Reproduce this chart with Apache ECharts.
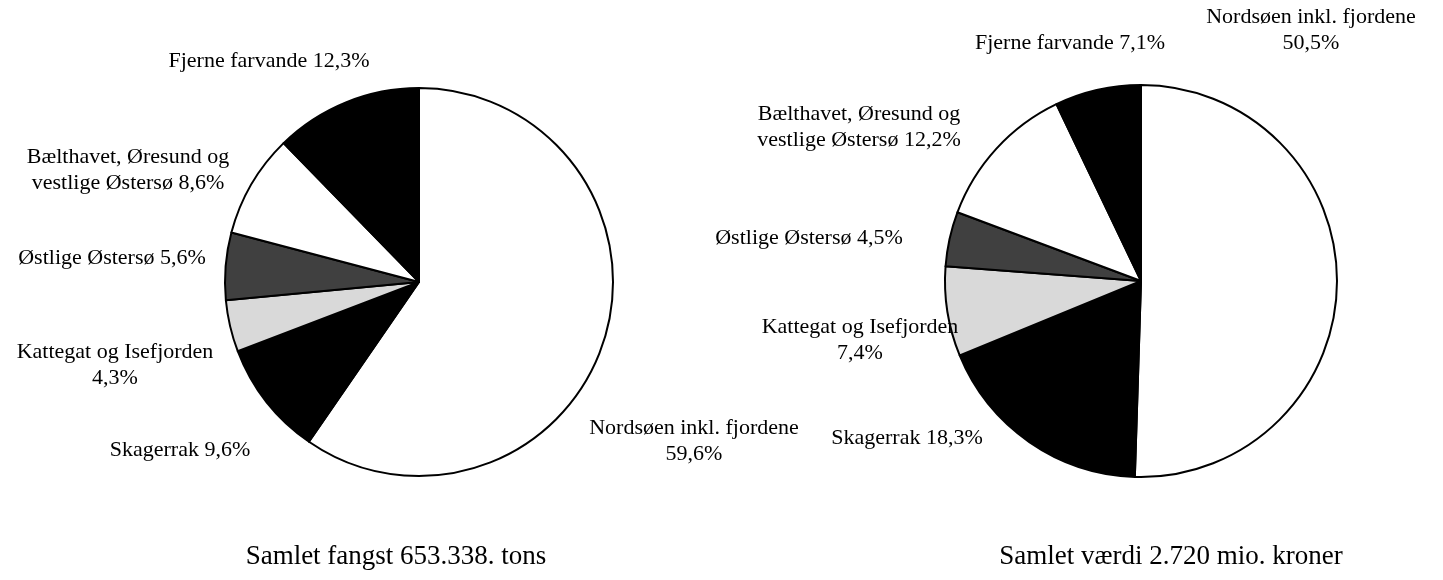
<!DOCTYPE html>
<html lang="da">
<head>
<meta charset="utf-8">
<title>Fangst og værdi</title>
<script src="https://cdn.jsdelivr.net/npm/echarts@6/dist/echarts.min.js"></script>
<style>
  html, body { margin: 0; padding: 0; background: #fff; }
  #main { width: 1443px; height: 580px; }
</style>
</head>
<body>
<div id="main"></div>
<script>
// områder (samme rækkefølge i begge cirkler, med uret fra kl. 12)
var areas = ['Nordsøen inkl. fjordene', 'Skagerrak', 'Kattegat og Isefjorden',
             'Østlige Østersø', 'Bælthavet, Øresund og\nvestlige Østersø', 'Fjerne farvande'];
// skift mellem navn og procent
var joiners = ['\n', ' ', '\n', ' ', ' ', ' '];
var catchShare = [59.6, 9.6, 4.3, 5.6, 8.6, 12.3];   // fangst, pct.
var valueShare = [50.5, 18.3, 7.4, 4.5, 12.2, 7.1];  // værdi, pct.
var titles = ['Samlet fangst 653.338. tons', 'Samlet værdi 2.720 mio. kroner'];

var sliceColors = ['#ffffff', '#000000', '#d9d9d9', '#404040', '#ffffff', '#000000'];
var font = '"Liberation Serif", "Times New Roman", serif';

// hvor teksterne står (midtpunkt)
var leftLabelAt  = [[694, 441], [180, 450], [115, 365], [112, 258], [128, 170], [269, 61]];
var rightLabelAt = [[1311, 30], [907, 438], [860, 340], [809, 238], [859, 127], [1070, 43]];

function pct(v) { return v.toFixed(1).replace('.', ',') + '%'; }

function makePie(values, center, radius, labelAt) {
    return {
        type: 'pie',
        center: center,
        radius: radius,
        startAngle: 90,
        clockwise: true,
        silent: true,
        animation: false,
        itemStyle: { borderColor: '#000', borderWidth: 2 },
        label: {
            show: true,
            position: 'inside',
            overflow: 'none',
            fontFamily: font,
            fontSize: 22,
            color: '#000',
            lineHeight: 26,
            align: 'center',
            formatter: function (p) {
                return areas[p.dataIndex] + joiners[p.dataIndex] + pct(p.value);
            }
        },
        labelLine: { show: false },
        labelLayout: function (p) {
            var at = labelAt[p.dataIndex];
            return { x: at[0], y: at[1], align: 'center', verticalAlign: 'middle' };
        },
        data: values.map(function (v, i) {
            return { name: areas[i], value: v, itemStyle: { color: sliceColors[i] } };
        })
    };
}

var myChart = echarts.init(document.getElementById('main'));

var titleStyle = { fontFamily: font, fontSize: 27, fontWeight: 'normal', color: '#000' };

var option = {
    backgroundColor: '#fff',
    animation: false,
    title: [
        { text: titles[0], left: 391, top: 538, textAlign: 'center', textStyle: titleStyle },
        { text: titles[1], left: 1166, top: 538, textAlign: 'center', textStyle: titleStyle }
    ],
    series: [
        makePie(catchShare, [419, 282], 194, leftLabelAt),
        makePie(valueShare, [1141, 281], 196, rightLabelAt)
    ]
};

myChart.setOption(option);
</script>
</body>
</html>
